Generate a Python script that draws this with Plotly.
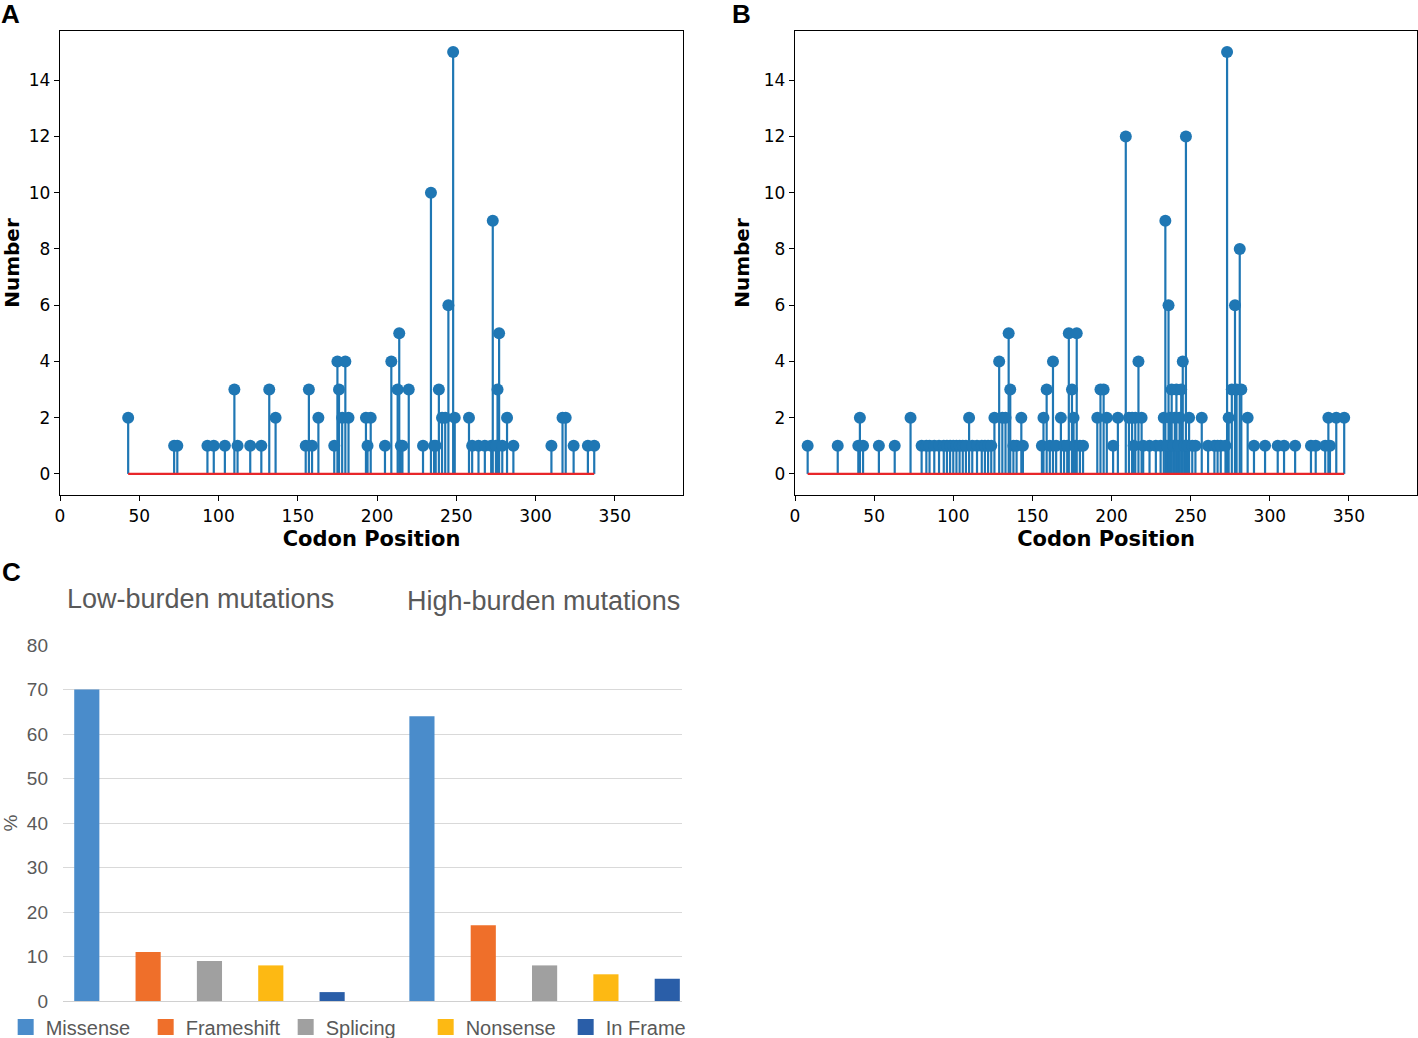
#!/usr/bin/env python3
"""
TP53 codon-position lollipop plots (A, B) and mutation type bar chart (C).
"""

import plotly.graph_objects as go

# Panel A: low-burden mutations, codon position -> count
a_codon = [43, 72, 74, 93, 97, 104, 110, 112, 120, 127, 132, 136,
           155, 157, 159, 163, 173, 175, 176, 178, 180, 182,
           193, 194, 196, 205, 209, 213, 214, 215, 216, 220, 229,
           234, 236, 237, 239, 241, 243, 245, 248, 249,
           258, 260, 264, 268, 272, 273, 275, 276, 277, 279, 282, 286,
           310, 317, 319, 324, 333, 337]
a_count = [2, 1, 1, 1, 1, 1, 3, 1, 1, 1, 3, 2,
           1, 3, 1, 2, 1, 4, 3, 2, 4, 2,
           2, 1, 2, 1, 4, 3, 5, 1, 1, 3, 1,
           10, 1, 1, 3, 2, 2, 6, 15, 2,
           2, 1, 1, 1, 1, 9, 1, 3, 5, 1, 2, 1,
           1, 2, 2, 1, 1, 1]

# Panel B: high-burden mutations, codon position -> count
b_codon = [8, 27, 40, 41, 43, 53, 63, 73, 80, 83, 85, 88, 91, 94, 96, 98,
           100, 102, 104, 106, 108, 110, 112, 115, 118, 120, 122, 124,
           126, 129, 131, 133, 135, 136, 138, 140, 143, 144,
           156, 157, 159, 161, 163, 165, 168, 170, 172, 173, 175, 176,
           177, 178, 180, 182, 191, 193, 195, 197, 201, 204, 209, 211,
           213, 214, 215, 217, 219, 220, 224, 228, 231,
           233, 234, 235, 236, 237, 238, 239, 240, 241, 242, 243, 244,
           245, 246, 247, 248, 249, 251, 253, 257,
           261, 265, 267, 269, 272, 273, 274, 276, 278, 279, 281, 282,
           286, 290, 297, 305, 309, 316, 326, 329, 335, 337, 338, 342, 347]
b_count = [1, 1, 1, 2, 1, 1, 1, 2, 1, 1, 1, 1, 1, 1, 1, 1,
           1, 1, 1, 1, 1, 2, 1, 1, 1, 1, 1, 1,
           2, 4, 2, 2, 5, 3, 1, 1, 2, 1,
           1, 2, 3, 1, 4, 1, 2, 1, 1, 5, 3, 2,
           1, 5, 1, 1, 2, 3, 3, 2, 1, 2, 12, 2,
           2, 1, 2, 4, 2, 1, 1, 1, 1,
           2, 9, 1, 6, 2, 3, 1, 2, 3, 1, 2, 3,
           4, 1, 12, 1, 2, 1, 1, 2,
           1, 1, 1, 1, 1, 15, 2, 3, 6, 3, 8, 3,
           2, 1, 1, 1, 1, 1, 1, 1, 1, 2, 1, 2, 2]

# Panel C: mutation type percentages
groups = ["Low-burden mutations", "High-burden mutations"]
mut_types = ["Missense", "Frameshift", "Splicing", "Nonsense", "In Frame"]
pct_low = [70, 11, 9, 8, 2]
pct_high = [64, 17, 8, 6, 5]
type_colors = ["#4a8ccb", "#ef6f2a", "#a0a0a0", "#fdb913", "#2a5ea8"]

W, H = 1418, 1038
STEM = "#1f77b4"
GRAY = "#595959"


def px_x(p):
    return p / W


def px_y(p):
    return 1 - p / H


def add_stems(fig, codon, count, xa, ya):
    xs, ys = [], []
    for c, n in zip(codon, count):
        xs += [c, c, None]
        ys += [0, n, None]
    fig.add_trace(go.Scatter(x=xs, y=ys, mode="lines", xaxis=xa, yaxis=ya,
                             line=dict(color=STEM, width=2.2),
                             showlegend=False, hoverinfo="skip"))
    fig.add_trace(go.Scatter(x=[min(codon), max(codon)], y=[0, 0],
                             mode="lines", xaxis=xa, yaxis=ya,
                             line=dict(color="#e8262a", width=2.2),
                             showlegend=False, hoverinfo="skip"))
    fig.add_trace(go.Scatter(x=codon, y=count, mode="markers",
                             xaxis=xa, yaxis=ya,
                             marker=dict(color=STEM, size=12),
                             showlegend=False))


def stem_xaxis(domain, anchor):
    return dict(domain=domain, anchor=anchor, range=[0, 393],
                tickvals=[0, 50, 100, 150, 200, 250, 300, 350],
                automargin=False,
                showline=True, linecolor="black", linewidth=1.3, mirror=True,
                ticks="outside", ticklen=5, tickcolor="black",
                showgrid=False, zeroline=False,
                tickfont=dict(family="DejaVu Sans", size=17, color="black"),
                title=dict(text="<b>Codon Position</b>", standoff=6,
                           font=dict(family="DejaVu Sans", size=21,
                                     color="black")))


def stem_yaxis(domain, anchor):
    return dict(domain=domain, anchor=anchor, range=[-0.75, 15.75],
                tickvals=[0, 2, 4, 6, 8, 10, 12, 14],
                automargin=False,
                showline=True, linecolor="black", linewidth=1.3, mirror=True,
                ticks="outside", ticklen=5, tickcolor="black",
                showgrid=False, zeroline=False,
                tickfont=dict(family="DejaVu Sans", size=17, color="black"),
                title=dict(text="<b>Number</b>", standoff=8,
                           font=dict(family="DejaVu Sans", size=20,
                                     color="black")))


def create_chart():
    fig = go.Figure()

    add_stems(fig, a_codon, a_count, "x", "y")
    add_stems(fig, b_codon, b_count, "x2", "y2")

    low_high = [pct_low, pct_high]
    for i, name in enumerate(mut_types):
        fig.add_trace(go.Bar(
            x=groups, y=[low_high[0][i], low_high[1][i]], name=name,
            marker=dict(color=type_colors[i], line=dict(width=0)),
            xaxis="x3", yaxis="y3", showlegend=False))
    # legend-only entries, so the legend swatches come out as big squares
    for i, name in enumerate(mut_types):
        fig.add_trace(go.Scatter(
            x=[None], y=[None], name=name, mode="markers",
            marker=dict(color=type_colors[i], symbol="square", size=18),
            xaxis="x3", yaxis="y3"))

    ab_ydom = [px_y(495), px_y(31)]
    fig.update_layout(
        width=W, height=H,
        margin=dict(l=0, r=0, t=0, b=0, autoexpand=False),
        paper_bgcolor="white", plot_bgcolor="white",
        barmode="group", bargap=0.085, bargroupgap=0.59,
        xaxis=stem_xaxis([px_x(60), px_x(683)], "y"),
        yaxis=stem_yaxis(ab_ydom, "x"),
        xaxis2=stem_xaxis([px_x(795), px_x(1417)], "y2"),
        yaxis2=stem_yaxis(ab_ydom, "x2"),
        xaxis3=dict(domain=[px_x(63), px_x(682)], anchor="y3",
                    type="category", range=[-0.437, 1.41],
                    automargin=False,
                    showticklabels=False, showline=False, showgrid=False),
        yaxis3=dict(domain=[px_y(1001), px_y(645)], anchor="x3",
                    range=[0, 80], dtick=10, automargin=False,
                    showgrid=True, gridcolor="#d9d9d9", gridwidth=1,
                    zeroline=True, zerolinecolor="#d0d0d0", zerolinewidth=1,
                    showline=False, ticks="", ticklabelstandoff=14,
                    tickfont=dict(family="Liberation Sans", size=19,
                                  color=GRAY),
                    title=dict(text="%", standoff=4,
                               font=dict(family="Liberation Sans", size=19,
                                         color=GRAY))),
        legend=dict(orientation="h", x=0.004, y=px_y(1027),
                    xanchor="left", yanchor="middle",
                    font=dict(family="Liberation Sans", size=20, color=GRAY),
                    itemwidth=30, tracegroupgap=0, entrywidth=95,
                    bgcolor="rgba(0,0,0,0)"),
        font=dict(family="DejaVu Sans"),
        hovermode="closest",
    )

    for text, x, y in [("A", 10, 14), ("B", 741, 14), ("C", 11, 572)]:
        fig.add_annotation(text=f"<b>{text}</b>", x=px_x(x), y=px_y(y),
                           xref="paper", yref="paper", showarrow=False,
                           xanchor="center", yanchor="middle",
                           font=dict(family="Liberation Sans", size=26,
                                     color="black"))

    for text, x, y in [(groups[0], 200, 599), (groups[1], 543, 601)]:
        fig.add_annotation(text=text, x=px_x(x), y=px_y(y),
                           xref="paper", yref="paper", showarrow=False,
                           xanchor="center", yanchor="middle",
                           font=dict(family="Liberation Sans", size=27,
                                     color=GRAY))

    return fig


def main():
    fig = create_chart()
    # drop the browser's default 8px body margin so the figure sits at 0,0
    fig.write_html("out.html", config={"displayModeBar": False},
                   post_script="document.body.style.margin='0';")
    print("Saved: out.html")
    return 0


if __name__ == "__main__":
    import sys
    sys.exit(main())
